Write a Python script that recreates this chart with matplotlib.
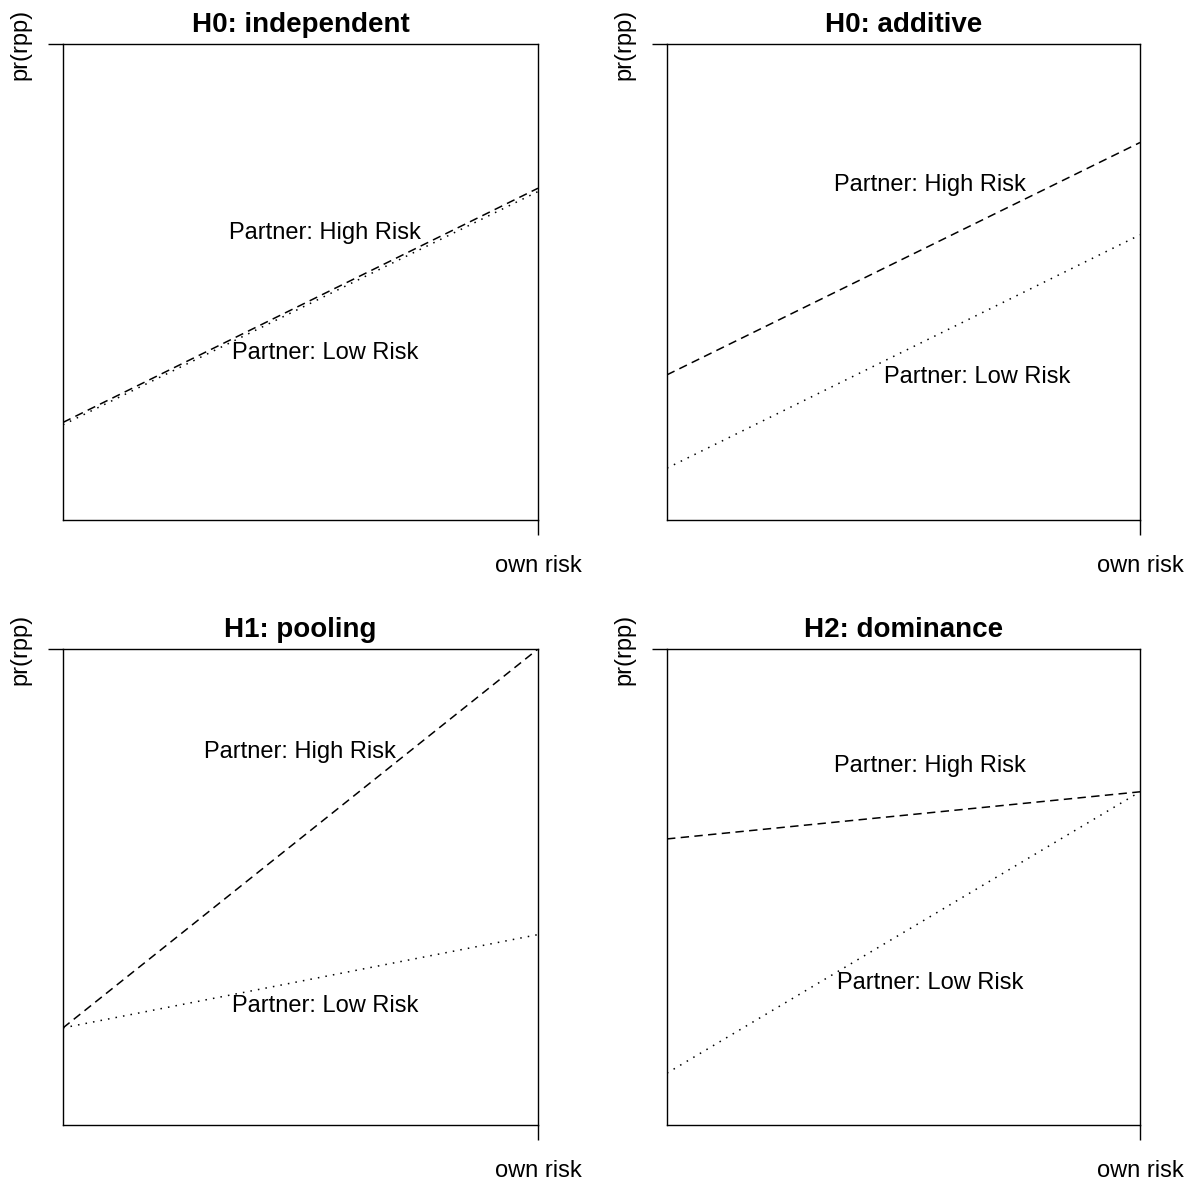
import matplotlib
matplotlib.use('Agg')
import matplotlib.pyplot as plt

plt.rcParams['font.family'] = ['Liberation Sans', 'DejaVu Sans']

own_risk = [0.0, 1.0]

titles = ['H0: independent', 'H0: additive', 'H1: pooling', 'H2: dominance']

# predicted pr(rpp) at own risk = 0 and 1
high_risk = [[0.205, 0.697], [0.305, 0.793], [0.204, 1.0], [0.601, 0.700]]
low_risk = [[0.200, 0.690], [0.109, 0.599], [0.204, 0.400], [0.109, 0.700]]

# label positions (own risk, pr(rpp))
high_label = [(0.552, 0.603), (0.556, 0.704), (0.499, 0.784), (0.556, 0.754)]
low_label = [(0.552, 0.351), (0.655, 0.300), (0.552, 0.250), (0.556, 0.298)]

W, H = 1201, 1184
fig = plt.figure(figsize=(W / 100, H / 100), dpi=100)

boxes = [(63, 44, 475), (667, 44, 473), (63, 649, 475), (667, 649, 473)]
bh = 476

for i, (x0, y0, bw) in enumerate(boxes):
    ax = fig.add_axes([x0 / W, 1 - (y0 + bh) / H, bw / W, bh / H])
    ax.plot(own_risk, high_risk[i], linestyle=(0, (5.5, 3.5)), color='black', lw=1.1)
    ax.plot(own_risk, low_risk[i], linestyle=(0, (1, 4)), color='black', lw=1.1)
    ax.text(*high_label[i], 'Partner: High Risk', ha='center', va='center', fontsize=17)
    ax.text(*low_label[i], 'Partner: Low Risk', ha='center', va='center', fontsize=17)
    ax.set_xlim(0, 1)
    ax.set_ylim(0, 1)
    ax.set_xticks([1])
    ax.set_xticklabels(['own risk'])
    ax.set_yticks([1])
    ax.set_yticklabels(['pr(rpp)'], rotation=90, va='center')
    ax.tick_params(length=11, width=1.0, pad=12, labelsize=17)
    ax.tick_params(axis='x', pad=14)
    for s in ax.spines.values():
        s.set_linewidth(1.0)
    ax.set_title(titles[i], fontsize=20, fontweight='bold', pad=9)

fig.savefig('out.png', dpi=100)
